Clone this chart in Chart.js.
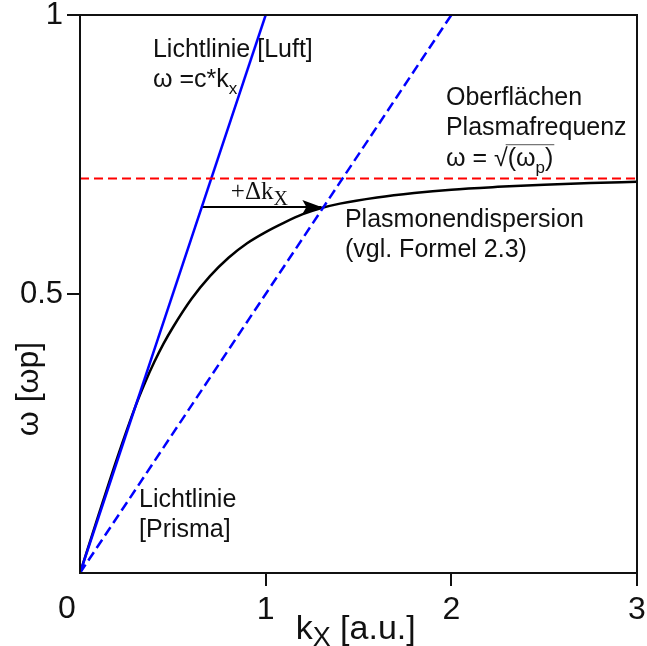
<!DOCTYPE html>
<html>
<head>
<meta charset="utf-8">
<script src="https://cdn.jsdelivr.net/npm/chart.js@4/dist/chart.umd.min.js"></script>
<style>
  html, body { margin: 0; padding: 0; background: #fff; }
  #wrap { width: 647px; height: 646px; }
</style>
</head>
<body>
<div id="wrap"><canvas id="chart" width="647" height="646"></canvas></div>
<script>
// axis ticks
const kxTicks = [1, 2, 3];
const kxLabels = ['1', '2', '3'];
const omegaTicks = [0.5, 1];
const omegaLabels = ['0.5', '1'];

// light lines (air and prism)
const lightAirK = [0, 1];
const lightAirW = [0, 1];
const lightPrismK = [0, 2];
const lightPrismW = [0, 1];

// surface plasma frequency
const plasmaK = [0, 3];
const plasmaW = [0.707, 0.707];

// surface plasmon dispersion
const spK = [0, 0.1, 0.2, 0.3, 0.35, 0.4, 0.45, 0.5, 0.6, 0.7, 0.8, 0.9, 1.0, 1.1, 1.2, 1.3, 1.4, 1.6, 1.8, 2.0, 2.25, 2.5, 2.75, 3.0];
const spW = [0, 0.104, 0.206, 0.300, 0.341, 0.378, 0.411, 0.440, 0.491, 0.532, 0.565, 0.591, 0.611, 0.628, 0.643, 0.654, 0.662, 0.673, 0.681, 0.687, 0.692, 0.696, 0.699, 0.701];

// momentum shift arrow
const arrowK = [0.656, 1.30];
const arrowW = [0.656, 0.656];

const SANS = "'Liberation Sans', Arial, sans-serif";
const SERIF = "'Liberation Serif', 'DejaVu Serif', serif";

function pts(xs, ys) {
  return xs.map((x, i) => ({ x: x, y: ys[i] }));
}

// text with subscripts, parts = [{t, sub}]
function drawParts(ctx, x, y, parts, size, family, subScale, subDrop) {
  const sc = subScale || 0.68;
  const dr = subDrop || 0.27;
  parts.forEach(p => {
    const s = p.sub ? Math.round(size * sc) : size;
    ctx.font = `${s}px ${family}`;
    ctx.fillText(p.t, x, y + (p.sub ? size * dr : 0));
    x += ctx.measureText(p.t).width;
  });
  return x;
}

const notes = [
  { k: 0.393, w: 0.925, parts: [{ t: 'Lichtlinie [Luft]' }] },
  { k: 0.393, w: 0.871, parts: [{ t: 'ω =c*k' }, { t: 'x', sub: true }] },
  { k: 1.971, w: 0.839, parts: [{ t: 'Oberflächen' }] },
  { k: 1.971, w: 0.785, parts: [{ t: 'Plasmafrequenz' }] },
  { k: 1.427, w: 0.620, parts: [{ t: 'Plasmonendispersion' }] },
  { k: 1.427, w: 0.566, parts: [{ t: '(vgl. Formel 2.3)' }] },
  { k: 0.318, w: 0.118, parts: [{ t: 'Lichtlinie' }] },
  { k: 0.318, w: 0.0645, parts: [{ t: '[Prisma]' }] }
];

const annotations = {
  id: 'annotations',
  afterDatasetsDraw(chart) {
    const { ctx, chartArea: a, scales: { x, y } } = chart;
    ctx.save();

    // frame
    ctx.strokeStyle = '#111';
    ctx.lineWidth = 2;
    ctx.strokeRect(a.left, a.top, a.right - a.left, a.bottom - a.top);

    // arrow head
    const tipX = x.getPixelForValue(arrowK[1]);
    const tipY = y.getPixelForValue(arrowW[1]);
    ctx.fillStyle = '#000';
    ctx.beginPath();
    ctx.moveTo(tipX, tipY);
    ctx.lineTo(tipX - 19, tipY - 7);
    ctx.lineTo(tipX - 15, tipY);
    ctx.lineTo(tipX - 19, tipY + 7);
    ctx.closePath();
    ctx.fill();

    // +Δk_X
    ctx.fillStyle = '#111';
    ctx.textBaseline = 'alphabetic';
    ctx.textAlign = 'left';
    drawParts(ctx, x.getPixelForValue(arrowK[0]) + 29, tipY - 8,
      [{ t: '+Δk' }, { t: 'X', sub: true }], 25, SERIF, 0.8, 0.25);

    // text labels
    notes.forEach(n => {
      drawParts(ctx, x.getPixelForValue(n.k), y.getPixelForValue(n.w), n.parts, 25, SANS);
    });

    // ω = √(ω_p) with overline
    const sx = x.getPixelForValue(1.971);
    const sy = y.getPixelForValue(0.729);
    let cx = drawParts(ctx, sx, sy, [{ t: 'ω = √' }], 25, SANS);
    const barStart = cx - 2;
    cx = drawParts(ctx, cx, sy, [{ t: '(ω' }, { t: 'p', sub: true }, { t: ')' }], 25, SANS);
    ctx.strokeStyle = '#555';
    ctx.lineWidth = 1;
    ctx.beginPath();
    ctx.moveTo(barStart, sy - 21.5);
    ctx.lineTo(cx + 1, sy - 21.5);
    ctx.stroke();

    // origin label
    ctx.font = `32px ${SANS}`;
    ctx.textAlign = 'center';
    ctx.textBaseline = 'top';
    ctx.fillText('0', x.getPixelForValue(0) - 13, a.bottom + 20);

    // axis titles
    ctx.textAlign = 'left';
    ctx.textBaseline = 'alphabetic';
    drawParts(ctx, x.getPixelForValue(1) + 30, 639,
      [{ t: 'k' }, { t: 'X', sub: true }, { t: ' [a.u.]' }], 34, SANS, 0.78, 0.2);

    ctx.translate(29, 389);
    ctx.rotate(-Math.PI / 2);
    ctx.textAlign = 'center';
    ctx.textBaseline = 'middle';
    ctx.font = `32px ${SANS}`;
    ctx.fillText('ω [ωp]', 0, 0);

    ctx.restore();
  }
};

const line = (data, color, width, dash) => ({
  data: data,
  borderColor: color,
  borderWidth: width,
  borderDash: dash || [],
  pointRadius: 0,
  fill: false
});

new Chart(document.getElementById('chart'), {
  type: 'line',
  data: {
    datasets: [
      line(pts(plasmaK, plasmaW), '#ff0000', 2, [9, 5]),
      line(pts(lightPrismK, lightPrismW), '#0000ff', 2.5, [10, 5]),
      line(pts(lightAirK, lightAirW), '#0000ff', 2.5),
      Object.assign(line(pts(spK, spW), '#000', 2.5), { cubicInterpolationMode: 'monotone' }),
      line(pts(arrowK, arrowW), '#000', 2)
    ]
  },
  options: {
    responsive: false,
    animation: false,
    devicePixelRatio: 1,
    layout: { padding: { top: 15, right: 10, left: 0, bottom: 0 } },
    plugins: { legend: { display: false }, tooltip: { enabled: false } },
    scales: {
      x: {
        type: 'linear',
        min: 0,
        max: 3,
        afterBuildTicks: s => { s.ticks = kxTicks.map(v => ({ value: v })); },
        afterFit: s => { s.height = 73; s.paddingLeft = 0; s.paddingRight = 0; },
        grid: { drawOnChartArea: false, drawTicks: true, tickLength: 13, color: '#111', lineWidth: 2 },
        border: { display: true, color: '#111', width: 2 },
        ticks: {
          color: '#111', font: { family: SANS, size: 32 }, padding: 5, maxRotation: 0,
          callback: v => kxLabels[kxTicks.indexOf(v)]
        }
      },
      y: {
        type: 'linear',
        min: 0,
        max: 1,
        afterBuildTicks: s => { s.ticks = omegaTicks.map(v => ({ value: v })); },
        afterFit: s => { s.width = 80; s.paddingTop = 0; s.paddingBottom = 0; },
        grid: { drawOnChartArea: false, drawTicks: true, tickLength: 13, color: '#111', lineWidth: 2 },
        border: { display: true, color: '#111', width: 2 },
        ticks: {
          color: '#111', font: { family: SANS, size: 31 }, padding: 4,
          callback: v => omegaLabels[omegaTicks.indexOf(v)]
        }
      }
    }
  },
  plugins: [annotations]
});
</script>
</body>
</html>
